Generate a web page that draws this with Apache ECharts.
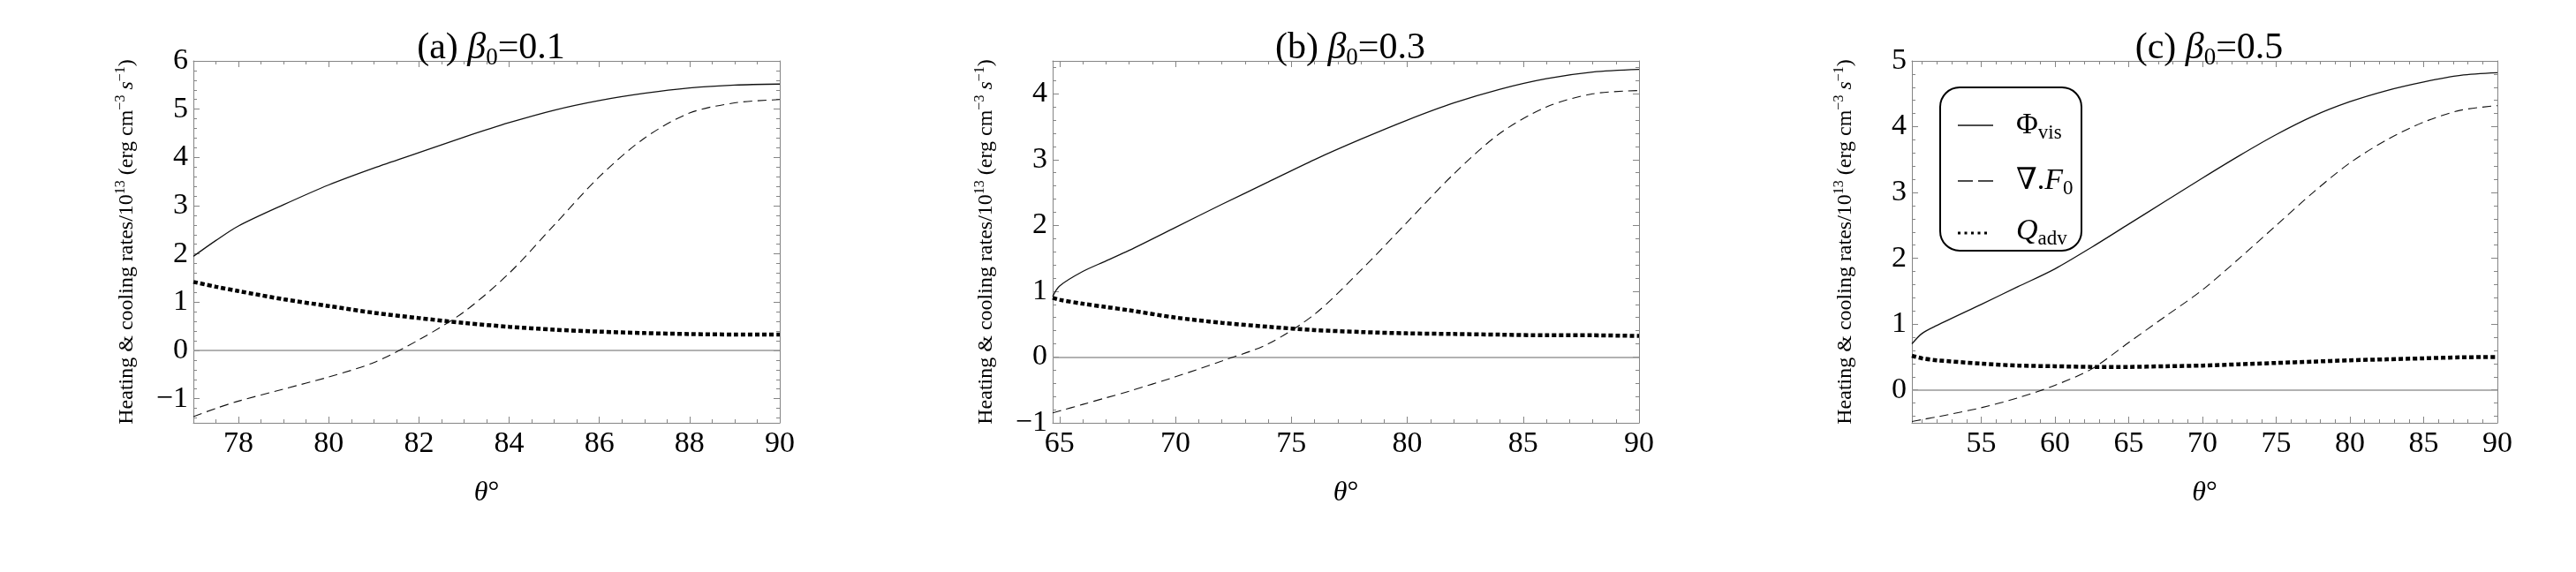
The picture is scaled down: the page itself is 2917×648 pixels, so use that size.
<!DOCTYPE html>
<html>
<head>
<meta charset="utf-8">
<title>Heating &amp; cooling rates</title>
<script src="https://cdn.jsdelivr.net/npm/echarts@6/dist/echarts.min.js"></script>
<style>
    html, body { margin: 0; padding: 0; background: #fff; }
    #chart { width: 2917px; height: 648px; }
</style>
</head>
<body>
<div id="chart"></div>
<script>
// (a) beta0 = 0.1
const thetaA = [77, 77.5, 78, 79, 80, 81, 82, 83, 84, 85, 86, 87, 88, 89, 90];
const phiVisA = [1.95, 2.28, 2.58, 3.02, 3.43, 3.78, 4.1, 4.42, 4.72, 4.98, 5.18, 5.33, 5.44, 5.5, 5.52];
const divFA = [-1.37, -1.2, -1.05, -0.8, -0.55, -0.25, 0.22, 0.8, 1.6, 2.6, 3.6, 4.4, 4.92, 5.13, 5.2];
const qAdvA = [1.42, 1.32, 1.23, 1.06, 0.92, 0.78, 0.67, 0.57, 0.49, 0.43, 0.39, 0.36, 0.34, 0.33, 0.33];

// (b) beta0 = 0.3
const thetaB = [64.7, 65, 66, 67, 68, 70, 72, 74, 76, 78, 80, 82, 84, 86, 88, 90];
const phiVisB = [0.92, 1.08, 1.3, 1.46, 1.62, 1.97, 2.32, 2.66, 3.0, 3.31, 3.6, 3.86, 4.07, 4.23, 4.33, 4.37];
const divFB = [-0.85, -0.82, -0.72, -0.62, -0.52, -0.3, -0.06, 0.2, 0.65, 1.32, 2.05, 2.78, 3.4, 3.8, 4.0, 4.05];
const qAdvB = [0.9, 0.87, 0.81, 0.76, 0.71, 0.6, 0.52, 0.46, 0.41, 0.38, 0.36, 0.35, 0.34, 0.33, 0.33, 0.32];

// (c) beta0 = 0.5
const thetaC = [50.3, 51, 52, 55, 57.5, 60, 62.5, 65, 67.5, 70, 72.5, 75, 77.5, 80, 82.5, 85, 87.5, 90];
const phiVisC = [0.7, 0.86, 0.98, 1.3, 1.57, 1.84, 2.17, 2.52, 2.87, 3.22, 3.56, 3.88, 4.16, 4.38, 4.55, 4.68, 4.78, 4.82];
const divFC = [-0.48, -0.45, -0.41, -0.27, -0.12, 0.07, 0.32, 0.72, 1.12, 1.52, 2.0, 2.5, 3.0, 3.45, 3.8, 4.07, 4.25, 4.32];
const qAdvC = [0.52, 0.48, 0.45, 0.4, 0.37, 0.36, 0.35, 0.35, 0.36, 0.37, 0.39, 0.41, 0.43, 0.45, 0.465, 0.48, 0.495, 0.5];

const panelLetters = ["a", "b", "c"];
const betaValues = ["0.1", "0.3", "0.5"];
const seriesNames = ["Φvis", "∇.F0", "Qadv"];
const xRanges = [[77, 90], [64.7, 90], [50.3, 90]];
const xSteps = [2, 5, 5];
const xMinorSplits = [4, 5, 5];
const yRanges = [[-1.5, 6], [-1, 4.5], [-0.5, 5]];

const chart = echarts.init(document.getElementById("chart"));
const serif = "'Liberation Serif', 'DejaVu Serif', serif";
const frameColor = "#858585";

const panels = [
    {theta: thetaA, curves: [phiVisA, divFA, qAdvA]},
    {theta: thetaB, curves: [phiVisB, divFB, qAdvB]},
    {theta: thetaC, curves: [phiVisC, divFC, qAdvC]}
];
const grids = [
    {left: 219, top: 69, width: 664, height: 410},
    {left: 1192, top: 69, width: 664, height: 410},
    {left: 2165, top: 69, width: 663, height: 410}
];
const lineStyles = [
    {color: "#111", width: 1.3, type: "solid"},
    {color: "#111", width: 1.1, type: [10, 6]},
    {color: "#000", width: 4.5, type: [5, 3]}
];

const minus = value => String(value).replace("-", "−");

function frameAxis(kind, i, isMain) {
    const range = kind === "x" ? xRanges[i] : yRanges[i];
    const step = kind === "x" ? xSteps[i] : 1;
    const minor = kind === "x" ? xMinorSplits[i] : 5;
    const axis = {
        type: "value",
        gridIndex: i,
        position: kind === "x" ? (isMain ? "bottom" : "top") : (isMain ? "left" : "right"),
        min: range[0],
        max: range[1],
        minInterval: step,
        maxInterval: step,
        axisLine: {show: true, onZero: false, lineStyle: {color: frameColor, width: 1}},
        axisTick: {show: true, inside: true, length: 7, lineStyle: {color: frameColor, width: 1}},
        minorTick: {show: true, splitNumber: minor, length: 4, lineStyle: {color: frameColor, width: 1}},
        splitLine: {show: false},
        axisLabel: {
            show: isMain,
            margin: kind === "x" ? 7 : 6,
            fontFamily: serif,
            fontSize: 34,
            color: "#000",
            showMinLabel: kind === "y" && i === 1,
            showMaxLabel: !(kind === "y" && i === 1),
            formatter: minus
        }
    };
    if (isMain && kind === "x") {
        axis.name = "{i|θ}°";
        axis.nameLocation = "middle";
        axis.nameGap = 64;
        axis.nameTextStyle = {
            fontFamily: serif, fontSize: 32, color: "#000",
            rich: {i: {fontFamily: serif, fontSize: 32, fontStyle: "italic", color: "#000"}}
        };
    }
    if (isMain && kind === "y") {
        axis.name = "Heating & cooling rates/10{sup|13} (erg cm{sup|−3} {si|s}{sup|−1})";
        axis.nameLocation = "middle";
        axis.nameGap = 60;
        axis.nameTextStyle = {
            fontFamily: serif, fontSize: 24, color: "#000", lineHeight: 30,
            rich: {
                sup: {fontFamily: serif, fontSize: 16, lineHeight: 16, verticalAlign: "top", color: "#000"},
                si: {fontFamily: serif, fontSize: 24, lineHeight: 30, fontStyle: "italic", color: "#000"}
            }
        };
    }
    return axis;
}

const xAxis = [];
const yAxis = [];
const series = [];
panels.forEach((panel, i) => {
    xAxis.push(frameAxis("x", i, true), frameAxis("x", i, false));
    yAxis.push(frameAxis("y", i, true), frameAxis("y", i, false));
    panel.curves.forEach((values, k) => {
        const item = {
            name: seriesNames[k],
            type: "line",
            xAxisIndex: 2 * i,
            yAxisIndex: 2 * i,
            data: panel.theta.map((t, n) => [t, values[n]]),
            symbol: "none",
            smooth: 0.3,
            lineStyle: lineStyles[k],
            z: 3
        };
        if (k === 0) {
            item.markLine = {
                silent: true,
                symbol: "none",
                label: {show: false},
                lineStyle: {color: "#999", width: 1.5, type: "solid"},
                data: [{yAxis: 0}],
                z: 1
            };
        }
        series.push(item);
    });
});

const titles = grids.map((grid, i) => ({
    text: `(${panelLetters[i]}) {i|β}{sub|0}=${betaValues[i]}`,
    left: grid.left + grid.width / 2,
    top: 26,
    textAlign: "center",
    textStyle: {
        fontFamily: serif, fontSize: 42, fontWeight: "normal", color: "#000", lineHeight: 48,
        rich: {
            i: {fontFamily: serif, fontSize: 42, fontStyle: "italic", lineHeight: 48, color: "#000"},
            sub: {fontFamily: serif, fontSize: 27, lineHeight: 27, verticalAlign: "bottom", color: "#000"}
        }
    }
}));

// legend box drawn inside panel (c)
const lg = grids[2];
const legendRows = [43, 106, 163];
const legendRich = {
    sub: {fontFamily: serif, fontSize: 23, lineHeight: 22, verticalAlign: "bottom", fill: "#000"},
    i: {fontFamily: serif, fontSize: 34, fontStyle: "italic", lineHeight: 40, fill: "#000"}
};
const legendGroup = {
    type: "group",
    x: lg.left + 32,
    y: lg.top + 30,
    z: 10,
    children: [
        {type: "rect", shape: {x: 0, y: 0, width: 160, height: 185, r: 22},
            style: {fill: "#fff", stroke: "#000", lineWidth: 2}},
        {type: "line", shape: {x1: 20, y1: legendRows[0], x2: 60, y2: legendRows[0]},
            style: {stroke: "#111", lineWidth: 1.3}},
        {type: "line", shape: {x1: 20, y1: legendRows[1], x2: 60, y2: legendRows[1]},
            style: {stroke: "#111", lineWidth: 1.4, lineDash: [17, 6]}},
        {type: "line", shape: {x1: 20, y1: legendRows[2] + 2, x2: 57, y2: legendRows[2] + 2},
            style: {stroke: "#000", lineWidth: 3, lineDash: [3, 4.5]}},
        ...["Φ{sub|vis}", "∇.{i|F}{sub|0}", "{i|Q}{sub|adv}"].map((text, k) => ({
            type: "text",
            x: 86,
            y: legendRows[k],
            style: {
                text, fontFamily: serif, fontSize: 34, lineHeight: 40, fill: "#000",
                verticalAlign: "middle", align: "left", rich: legendRich
            }
        }))
    ]
};

chart.setOption({
    animation: false,
    backgroundColor: "#fff",
    title: titles,
    grid: grids.map(g => ({...g, containLabel: false, outerBoundsMode: "none"})),
    xAxis,
    yAxis,
    series,
    graphic: [legendGroup]
});

window.addEventListener("resize", () => chart.resize());
</script>
</body>
</html>
